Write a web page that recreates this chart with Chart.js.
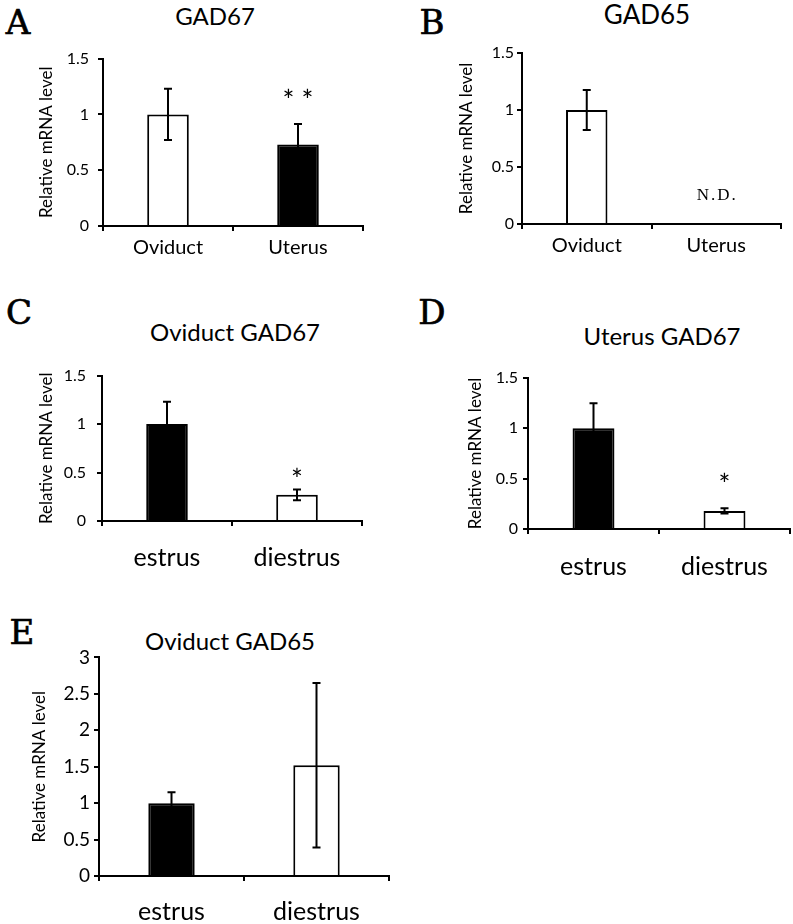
<!DOCTYPE html>
<html>
<head>
<meta charset="utf-8">
<script src="https://cdn.jsdelivr.net/npm/chart.js@4.4.1/dist/chart.umd.min.js"></script>
<style>
  body { margin: 0; background: #fff; width: 793px; height: 924px; position: relative; overflow: hidden; }
  canvas { position: absolute; }
  .lbl { position: absolute; transform: translate(-50%, -50%); white-space: nowrap; color: #000; line-height: 1; }
  .letter { font-family: 'DejaVu Serif', serif; font-size: 34px; -webkit-text-stroke: 0.7px #000; }
  .ttl { font-family: Lato, sans-serif; font-size: 24px; }
</style>
</head>
<body>
<div class="lbl letter" style="left:18px;top:22px">A</div>
<div class="lbl letter" style="left:432px;top:22px">B</div>
<div class="lbl letter" style="left:19px;top:312px">C</div>
<div class="lbl letter" style="left:432px;top:312px">D</div>
<div class="lbl letter" style="left:22px;top:632px">E</div>

<div class="lbl ttl" style="left:215px;top:16px">GAD67</div>
<div class="lbl ttl" style="left:647px;top:14px;font-size:26px">GAD65</div>
<div class="lbl ttl" style="left:235px;top:332px">Oviduct GAD67</div>
<div class="lbl ttl" style="left:662px;top:336px">Uterus GAD67</div>
<div class="lbl ttl" style="left:230px;top:641px">Oviduct GAD65</div>

<canvas id="chA"></canvas>
<canvas id="chB"></canvas>
<canvas id="chC"></canvas>
<canvas id="chD"></canvas>
<canvas id="chE"></canvas>

<script>
// categories
const tissues = ['Oviduct', 'Uterus'];
const stages = ['estrus', 'diestrus'];

// tick labels
const ticksLow = [0, 0.5, 1, 1.5];
const ticksHigh = [0, 0.5, 1, 1.5, 2, 2.5, 3];

// A: GAD67 by tissue
const gad67Tissue = [1.0, 0.73];
const gad67TissueErr = [0.23, 0.185];
const gad67TissueMark = ['', '* *'];
const gad67TissueMarkY = [null, 1.17];

// B: GAD65 by tissue (uterus not detected)
const gad65Tissue = [1.0, null];
const gad65TissueErr = [0.175, null];
const gad65TissueMark = ['', 'N.D.'];
const gad65TissueMarkY = [null, 0.26];

// C: oviduct GAD67 by cycle stage
const ovGad67 = [1.0, 0.27];
const ovGad67Err = [0.23, 0.055];
const ovGad67Mark = ['', '*'];
const ovGad67MarkY = [null, 0.49];

// D: uterus GAD67 by cycle stage
const utGad67 = [1.0, 0.18];
const utGad67Err = [0.25, 0.025];
const utGad67Mark = ['', '*'];
const utGad67MarkY = [null, 0.5];

// E: oviduct GAD65 by cycle stage
const ovGad65 = [1.0, 1.52];
const ovGad65Err = [0.15, 1.13];

const FONT = 'Lato, sans-serif';

const errorBars = {
  id: 'errorBars',
  afterDatasetsDraw(chart) {
    const { ctx, scales: { x, y } } = chart;
    const ds = chart.data.datasets[0];
    ctx.save();
    ctx.strokeStyle = '#000';
    ctx.lineWidth = 2;
    ds.data.forEach((v, i) => {
      const e = ds.errors[i];
      if (v == null || !e) return;
      const px = x.getPixelForValue(i);
      const top = y.getPixelForValue(v + e), bot = y.getPixelForValue(v - e);
      ctx.beginPath();
      ctx.moveTo(px, top); ctx.lineTo(px, bot);
      ctx.moveTo(px - 4, top); ctx.lineTo(px + 4, top);
      ctx.moveTo(px - 4, bot); ctx.lineTo(px + 4, bot);
      ctx.stroke();
    });
    // significance marks / N.D.
    (ds.marks || []).forEach((m, i) => {
      if (!m) return;
      const px = x.getPixelForValue(i), py = y.getPixelForValue(ds.markY[i]);
      ctx.fillStyle = '#000';
      ctx.textAlign = 'center';
      ctx.textBaseline = 'alphabetic';
      if (m === 'N.D.') {
        ctx.font = '17px "Liberation Serif", serif';
        ctx.letterSpacing = '2px';
        ctx.fillText(m, px + 1, py + 6);
      } else {
        ctx.font = '28px ' + FONT;
        ctx.fillText(m, px, py + 16);
      }
    });
    ctx.restore();
  },
};

function makeChart(id, o) {
  const cv = document.getElementById(id);
  const yW = 100, padTop = 15, padR = 3;
  const left = o.axisL - yW, top = o.axisT - padTop;
  const w = o.axisR - left + padR, h = o.axisB - top + o.xH;
  cv.width = w; cv.height = h;
  cv.style.left = left + 'px'; cv.style.top = top + 'px';
  cv.style.width = w + 'px'; cv.style.height = h + 'px';
  const fs = 17;
  return new Chart(cv, {
    type: 'bar',
    data: {
      labels: o.labels,
      datasets: [{
        data: o.values,
        errors: o.errors,
        marks: o.marks,
        markY: o.markY,
        backgroundColor: o.fills,
        borderColor: '#000',
        borderWidth: 2,
        borderSkipped: 'start',
        barPercentage: 0.8,
        categoryPercentage: 0.4,
      }],
    },
    options: {
      responsive: false,
      animation: false,
      devicePixelRatio: 1,
      layout: { padding: { top: padTop, right: padR, left: 0, bottom: 0 } },
      plugins: { legend: { display: false }, tooltip: { enabled: false }, title: { display: false } },
      scales: {
        x: {
          afterFit: (s) => { s.height = o.xH; },
          grid: { offset: true, drawOnChartArea: false, tickLength: 5, color: '#000', lineWidth: 2 },
          border: { color: '#000', width: 2, z: 1 },
          ticks: { color: '#000', font: { family: FONT, size: o.xFont }, padding: o.xPad, maxRotation: 0 },
        },
        y: {
          min: 0,
          max: o.ticks[o.ticks.length - 1],
          afterFit: (s) => { s.width = yW; },
          afterBuildTicks: (s) => { s.ticks = o.ticks.map((v) => ({ value: v })); },
          grid: { drawOnChartArea: false, tickLength: 5, color: '#000', lineWidth: 2 },
          border: { color: '#000', width: 2, z: 1 },
          ticks: { color: '#000', font: { family: FONT, size: o.yFont }, padding: o.yPad, callback: (v) => String(v) },
          title: {
            display: true,
            text: 'Relative mRNA level',
            color: '#000',
            font: { family: FONT, size: fs },
            padding: { top: (yW - o.titleGap) - fs * 0.6, bottom: 0 },
          },
        },
      },
    },
    plugins: [errorBars],
  });
}

makeChart('chA', {
  labels: tissues, values: gad67Tissue, errors: gad67TissueErr, marks: gad67TissueMark, markY: gad67TissueMarkY,
  fills: ['#fff', '#000'], ticks: ticksLow,
  axisL: 103, axisT: 55, axisB: 226, axisR: 363, xH: 40, xFont: 20, xPad: 5, yFont: 16, yPad: 9, titleGap: 56,
});
makeChart('chB', {
  labels: tissues, values: gad65Tissue, errors: gad65TissueErr, marks: gad65TissueMark, markY: gad65TissueMarkY,
  fills: ['#fff', '#fff'], ticks: ticksLow,
  axisL: 522, axisT: 53, axisB: 224, axisR: 781, xH: 40, xFont: 20, xPad: 5, yFont: 16, yPad: 3, titleGap: 55,
});
makeChart('chC', {
  labels: stages, values: ovGad67, errors: ovGad67Err, marks: ovGad67Mark, markY: ovGad67MarkY,
  fills: ['#000', '#fff'], ticks: ticksLow,
  axisL: 102, axisT: 370, axisB: 521, axisR: 362, xH: 55, xFont: 25, xPad: 17, yFont: 16, yPad: 11, titleGap: 55,
});
makeChart('chD', {
  labels: stages, values: utGad67, errors: utGad67Err, marks: utGad67Mark, markY: utGad67MarkY,
  fills: ['#000', '#fff'], ticks: ticksLow,
  axisL: 528, axisT: 378, axisB: 529, axisR: 790, xH: 55, xFont: 25, xPad: 18, yFont: 16, yPad: 5, titleGap: 52,
});
makeChart('chE', {
  labels: stages, values: ovGad65, errors: ovGad65Err, marks: [], markY: [],
  fills: ['#000', '#fff'], ticks: ticksHigh,
  axisL: 99, axisT: 657, axisB: 876, axisR: 389, xH: 48, xFont: 25, xPad: 16, yFont: 19, yPad: 4, titleGap: 59,
});
</script>
</body>
</html>
